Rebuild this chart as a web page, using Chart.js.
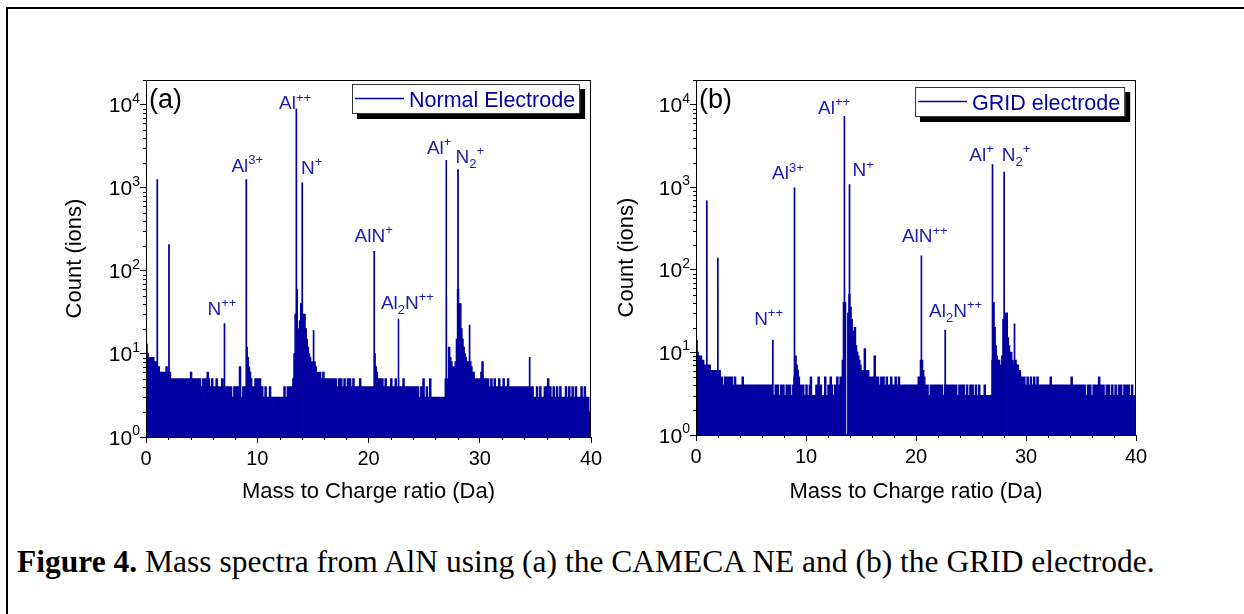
<!DOCTYPE html>
<html>
<head>
<meta charset="utf-8">
<script src="https://cdn.jsdelivr.net/npm/chart.js"></script>
<style>
  body { margin: 0; background: #fff; }
  #page { position: relative; width: 1244px; height: 614px; overflow: hidden; background: #fff; }
  .frame { position: absolute; left: 6px; top: 7px; width: 1300px; height: 700px; border-left: 2px solid #000; border-top: 2px solid #000; }
  canvas { position: absolute; }
  #chartA { left: 30px; top: 60px; }
  #chartB { left: 580px; top: 60px; }
  .caption { position: absolute; left: 17px; top: 545px; font-family: "Times New Roman", "Liberation Serif", serif; font-size: 31.5px; line-height: 34px; white-space: nowrap; color: #000; }
</style>
</head>
<body>
<div id="page">
  <div class="frame"></div>
  <canvas id="chartA" width="580" height="460"></canvas>
  <canvas id="chartB" width="580" height="460"></canvas>
  <div class="caption"><b>Figure 4.</b> Mass spectra from AlN using (a) the CAMECA NE and (b) the GRID electrode.</div>
</div>
<script>
// counts per 0.1 Da bin (noise floor and peak tails)
var binWidth = 0.1;

var floorCountsA = [
  13, 10, 9, 8, 9, 7, 9, 8, 6, 8,   6, 7, 6, 6, 5, 6, 5, 6, 7, 6,
  5, 6, 5, 5, 4, 5, 5, 5, 4, 5,     5, 4, 5, 3, 5, 5, 4, 5, 3, 5,
  6, 5, 4, 5, 3, 5, 4, 5, 5, 3,     4, 5, 3, 5, 4, 6, 5, 3, 4, 5,
  4, 3, 4, 5, 3, 4, 4, 3, 5, 4,     4, 3, 4, 3, 4, 3, 4, 3, 3, 4,
  3, 4, 3, 4, 7, 3, 3, 4, 3, 4,     12, 9, 7, 6, 5, 4, 4, 3, 5, 3,
  5, 3, 5, 3, 4, 3, 3, 4, 3, 3,     3, 4, 3, 3, 3, 2, 3, 3, 3, 3,
  3, 3, 2, 3, 4, 3, 3, 4, 3, 4,     4, 3, 5, 10, 30, 60, 20, 1, 25, 40,
  30, 1, 30, 20, 15, 12, 10, 9, 8, 8,   7, 8, 7, 6, 6, 5, 6, 5, 5, 6,
  5, 4, 5, 5, 4, 5, 4, 5, 4, 5,     5, 4, 4, 5, 4, 5, 4, 4, 5, 4,
  4, 5, 4, 5, 3, 4, 5, 4, 4, 3,     4, 3, 5, 4, 4, 3, 4, 3, 4, 3,
  4, 3, 4, 3, 4, 10, 7, 6, 5, 4,    5, 4, 5, 4, 4, 5, 4, 3, 4, 4,
  5, 4, 3, 4, 5, 4, 4, 5, 4, 4,     4, 5, 3, 4, 3, 4, 3, 4, 3, 4,
  3, 4, 3, 4, 4, 3, 3, 4, 3, 5,     3, 3, 4, 3, 3, 5, 3, 3, 3, 3,
  3, 3, 3, 3, 2, 3, 3, 3, 3, 5,     50, 1, 12, 9, 8, 7, 6, 7, 8, 15,
  60, 1, 40, 20, 15, 12, 10, 9, 8, 7,   8, 9, 7, 6, 6, 5, 5, 4, 5, 4,
  5, 6, 8, 5, 4, 5, 4, 5, 4, 4,     5, 4, 4, 5, 3, 4, 4, 5, 4, 4,
  4, 5, 4, 3, 4, 5, 4, 4, 3, 4,     4, 3, 4, 4, 3, 4, 3, 4, 3, 4,
  3, 4, 3, 4, 4, 4, 3, 4, 3, 3,     3, 4, 3, 3, 4, 3, 3, 3, 4, 3,
  4, 5, 3, 4, 3, 3, 4, 3, 3, 4,     3, 3, 4, 3, 3, 3, 3, 4, 3, 3,
  4, 3, 3, 4, 3, 3, 4, 3, 3, 3,     3, 4, 3, 3, 4, 3, 3, 3, 2, 2
];
var peakMassA  = [0.0, 1.0, 2.05, 7.04, 9.0, 13.5, 14.03, 15.05, 20.5, 22.69, 26.98, 28.03, 29.07, 34.47];
var peakCountA = [34, 1250, 206, 23, 1250, 8870, 1140, 19, 171, 26, 2130, 1650, 22, 9];

var floorCountsB = [
  14, 10, 9, 8, 9, 7, 8, 7, 6, 7,   6, 6, 7, 5, 6, 5, 6, 5, 6, 5,
  5, 6, 4, 5, 4, 4, 5, 4, 5, 4,     5, 4, 5, 4, 4, 5, 4, 4, 4, 4,
  4, 4, 5, 4, 4, 4, 4, 3, 4, 4,     4, 3, 4, 4, 3, 4, 4, 3, 4, 3,
  4, 4, 3, 4, 4, 3, 4, 4, 4, 3,     4, 3, 4, 3, 4, 3, 3, 4, 3, 4,
  3, 3, 4, 3, 4, 4, 3, 3, 4, 5,     9, 7, 6, 5, 4, 4, 3, 4, 3, 3,
  4, 3, 3, 4, 5, 3, 3, 2, 3, 4,     3, 5, 3, 4, 3, 3, 2, 5, 3, 3,
  4, 3, 5, 4, 3, 3, 4, 3, 5, 3,     4, 5, 4, 8, 40, 60, 1, 1, 30, 50,
  35, 25, 18, 14, 20, 12, 10, 9, 8, 7,  6, 6, 5, 11, 6, 5, 6, 5, 5, 4,
  5, 4, 9, 5, 4, 5, 4, 4, 5, 4,     5, 4, 4, 5, 4, 4, 4, 5, 4, 4,
  4, 5, 4, 4, 5, 4, 4, 3, 4, 4,     4, 3, 4, 4, 3, 4, 3, 4, 4, 4,
  4, 3, 5, 4, 8, 6, 6, 5, 4, 4,     4, 3, 3, 4, 3, 4, 3, 4, 4, 3,
  4, 3, 4, 4, 3, 3, 4, 4, 3, 4,     3, 4, 3, 4, 3, 4, 4, 3, 3, 4,
  3, 4, 3, 4, 3, 3, 4, 3, 3, 4,     3, 4, 3, 3, 4, 3, 3, 4, 3, 3,
  3, 3, 4, 3, 3, 3, 3, 3, 3, 8,     40, 20, 12, 9, 8, 8, 7, 6, 9, 25,
  30, 1, 30, 15, 12, 10, 10, 8, 7, 6,   8, 6, 7, 5, 6, 5, 5, 4, 5, 4,
  4, 5, 4, 4, 5, 4, 4, 5, 4, 4,     5, 4, 4, 4, 3, 4, 4, 4, 3, 4,
  4, 4, 5, 4, 3, 4, 4, 3, 4, 4,     4, 3, 4, 4, 3, 4, 4, 3, 4, 4,
  4, 5, 4, 4, 3, 4, 4, 4, 3, 4,     3, 4, 3, 4, 3, 3, 4, 3, 4, 3,
  3, 4, 4, 3, 4, 3, 5, 3, 4, 3,     4, 3, 3, 4, 3, 4, 3, 3, 4, 3,
  3, 4, 3, 3, 4, 3, 4, 3, 3, 4,     3, 4, 3, 4, 3, 3, 4, 3, 3, 3
];
var peakMassB  = [0.0, 0.97, 1.97, 6.97, 8.94, 13.48, 13.94, 20.48, 22.64, 26.94, 28.0, 28.94];
var peakCountB = [33, 680, 138, 14, 980, 7200, 1070, 147, 18.5, 1870, 1520, 22];

// ion labels: text, mass and count of the label's bottom centre
var ionLabelsA = [
  { text: 'N^{++}', x: 6.83, y: 29.5 },
  { text: 'Al^{3+}', x: 9.1, y: 1560 },
  { text: 'Al^{++}', x: 13.4, y: 8900 },
  { text: 'N^{+}', x: 14.9, y: 1480 },
  { text: 'AlN^{+}', x: 20.46, y: 224 },
  { text: 'Al_{2}N^{++}', x: 23.5, y: 35 },
  { text: 'Al^{+}', x: 26.35, y: 2570 },
  { text: 'N_{2}^{+}', x: 29.1, y: 2000 }
];
var ionLabelsB = [
  { text: 'N^{++}', x: 6.6, y: 21.8 },
  { text: 'Al^{3+}', x: 8.36, y: 1260 },
  { text: 'Al^{++}', x: 12.55, y: 7760 },
  { text: 'N^{+}', x: 15.2, y: 1370 },
  { text: 'AlN^{++}', x: 20.8, y: 215 },
  { text: 'Al_{2}N^{++}', x: 23.6, y: 27 },
  { text: 'Al^{+}', x: 25.95, y: 2090 },
  { text: 'N_{2}^{+}', x: 29.1, y: 2090 }
];

var SERIES = '#0000a0';
var LABEL_BLUE = '#1c1ca8';
var FONT = '"Liberation Sans", Arial, sans-serif';

function buildSpectrum(floor, peakMass, peakCount) {
  var pts = [];
  for (var i = 0; i < floor.length; i++) {
    pts.push({ x: Math.round(i * binWidth * 100) / 100, y: floor[i] });
  }
  pts.push({ x: 40, y: floor[floor.length - 1] });
  for (var j = 0; j < peakMass.length; j++) {
    var bin = floor[Math.min(Math.floor(peakMass[j] / binWidth + 1e-6), floor.length - 1)];
    pts.push({ x: peakMass[j] + 0.001, y: peakCount[j] });
    pts.push({ x: peakMass[j] + 0.03, y: bin });
  }
  pts.sort(function (a, b) { return a.x - b.x; });
  return pts;
}

// split 'Al_{2}N^{++}' into runs of normal / sub / sup text
function parseRich(s) {
  var parts = [], re = /(\^|_)\{([^}]*)\}/g, last = 0, m;
  while ((m = re.exec(s))) {
    if (m.index > last) parts.push({ t: s.slice(last, m.index), k: 'n' });
    parts.push({ t: m[2], k: m[1] === '^' ? 'sup' : 'sub' });
    last = re.lastIndex;
  }
  if (last < s.length) parts.push({ t: s.slice(last), k: 'n' });
  return parts;
}

function drawRich(ctx, s, cx, baseY, size) {
  var parts = parseRich(s), small = Math.round(size * 0.68), w = 0;
  parts.forEach(function (p) {
    ctx.font = (p.k === 'n' ? size : small) + 'px ' + FONT;
    p.w = ctx.measureText(p.t).width;
    w += p.w;
  });
  var x = cx - w / 2;
  ctx.textAlign = 'left';
  ctx.textBaseline = 'alphabetic';
  parts.forEach(function (p) {
    ctx.font = (p.k === 'n' ? size : small) + 'px ' + FONT;
    var dy = p.k === 'sup' ? -size * 0.4 : (p.k === 'sub' ? size * 0.28 : 0);
    ctx.fillText(p.t, x, baseY + dy);
    x += p.w;
  });
}

var decor = {
  id: 'decor',
  afterDraw: function (chart) {
    var o = chart.options.plugins.decor;
    var ctx = chart.ctx, a = chart.chartArea, xs = chart.scales.x, ys = chart.scales.y;
    ctx.save();

    // box round the plot
    ctx.strokeStyle = '#000';
    ctx.lineWidth = 1;
    ctx.strokeRect(Math.round(a.left) + 0.5, Math.round(a.top) + 0.5,
      Math.round(a.right - a.left) - 1, Math.round(a.bottom - a.top));

    // minor ticks
    ctx.beginPath();
    for (var v = 2; v < 40; v += 2) {
      if (v % 10 === 0) continue;
      var px = Math.round(xs.getPixelForValue(v)) + 0.5;
      ctx.moveTo(px, a.bottom); ctx.lineTo(px, a.bottom + 3);
    }
    for (var k = 0; k < 5; k++) {
      for (var d = 2; d <= 9; d++) {
        var mv = d * Math.pow(10, k);
        if (mv > ys.max) break;
        var py = Math.round(ys.getPixelForValue(mv)) + 0.5;
        ctx.moveTo(a.left - 3, py); ctx.lineTo(a.left, py);
      }
    }
    ctx.stroke();

    // decade labels 10^n
    ctx.fillStyle = '#000';
    ys.ticks.forEach(function (t) {
      var e = String(Math.round(Math.log10(t.value)));
      var y = ys.getPixelForValue(t.value);
      ctx.font = '14px ' + FONT;
      var we = ctx.measureText(e).width;
      var xr = a.left - 6;
      ctx.textAlign = 'left';
      ctx.textBaseline = 'alphabetic';
      ctx.fillText(e, xr - we, y - 2);
      ctx.font = '21px ' + FONT;
      ctx.textAlign = 'right';
      ctx.fillText('10', xr - we, y + 7.5);
    });

    // ion labels
    ctx.fillStyle = LABEL_BLUE;
    o.labels.forEach(function (l) {
      drawRich(ctx, l.text, xs.getPixelForValue(l.x), ys.getPixelForValue(l.y), 19);
    });

    // panel letter
    ctx.fillStyle = '#000';
    ctx.font = '27px ' + FONT;
    ctx.textAlign = 'left';
    ctx.textBaseline = 'alphabetic';
    ctx.fillText(o.panel, a.left + 3, a.top + 28);

    // legend with drop shadow
    var text = chart.data.datasets[0].label;
    ctx.font = '21.5px ' + FONT;
    var tw = ctx.measureText(text).width;
    var bw = 3 + 49 + 6 + tw + 4, bh = 30;
    var bx = Math.round(a.right - 11 - bw), by = Math.round(a.top + o.legendTop);
    ctx.fillStyle = '#000';
    ctx.fillRect(bx + 5, by + 5, bw, bh);
    ctx.fillStyle = '#fff';
    ctx.fillRect(bx, by, bw, bh);
    ctx.strokeStyle = '#333';
    ctx.strokeRect(bx + 0.5, by + 0.5, bw - 1, bh - 1);
    ctx.strokeStyle = SERIES;
    ctx.lineWidth = 1.5;
    ctx.beginPath();
    ctx.moveTo(bx + 3, by + 14.5); ctx.lineTo(bx + 52, by + 14.5);
    ctx.stroke();
    ctx.fillStyle = SERIES;
    ctx.fillText(text, bx + 57, by + 23);

    ctx.restore();
  }
};

function makeChart(id, spectrum, legendText, labels, panel, geom) {
  return new Chart(document.getElementById(id), {
    type: 'line',
    data: {
      datasets: [{
        label: legendText,
        data: spectrum,
        borderColor: SERIES,
        backgroundColor: SERIES,
        borderWidth: 1.4,
        fill: 'start',
        stepped: true,
        pointRadius: 0
      }]
    },
    options: {
      responsive: false,
      animation: false,
      devicePixelRatio: 1,
      layout: { padding: { left: 0, top: 20, right: geom.right, bottom: 0 } },
      plugins: {
        legend: { display: false },
        tooltip: { enabled: false },
        decor: { labels: labels, panel: panel, legendTop: geom.legendTop }
      },
      scales: {
        x: {
          type: 'linear', min: 0, max: 40,
          ticks: { stepSize: 10, color: '#000', font: { family: FONT, size: 20 }, padding: 4 },
          grid: { drawOnChartArea: false, tickLength: 6, tickColor: '#000' },
          border: { color: '#000' },
          title: { display: true, text: 'Mass to Charge ratio (Da)', color: '#000',
                   font: { family: FONT, size: 22 }, padding: { top: 0, bottom: 15 } },
          afterFit: function (s) { s.height = geom.xh; }
        },
        y: {
          type: 'logarithmic', min: 1, max: 20000,
          ticks: { display: false },
          afterBuildTicks: function (s) {
            s.ticks = s.ticks.filter(function (t) {
              var l = Math.log10(t.value);
              return Math.abs(l - Math.round(l)) < 1e-9;
            });
          },
          grid: { drawOnChartArea: false, tickLength: 6, tickColor: '#000' },
          border: { color: '#000' },
          title: { display: true, text: 'Count (ions)', color: '#000',
                   font: { family: FONT, size: 22 }, padding: { top: geom.yTitle, bottom: 0 } },
          afterFit: function (s) { s.width = 116; }
        }
      }
    },
    plugins: [decor]
  });
}

makeChart('chartA', buildSpectrum(floorCountsA, peakMassA, peakCountA), 'Normal Electrode',
  ionLabelsA, '(a)', { right: 19, xh: 83, yTitle: 32, legendTop: 4 });
makeChart('chartB', buildSpectrum(floorCountsB, peakMassB, peakCountB), 'GRID electrode',
  ionLabelsB, '(b)', { right: 24, xh: 85, yTitle: 34, legendTop: 7 });
</script>
</body>
</html>
